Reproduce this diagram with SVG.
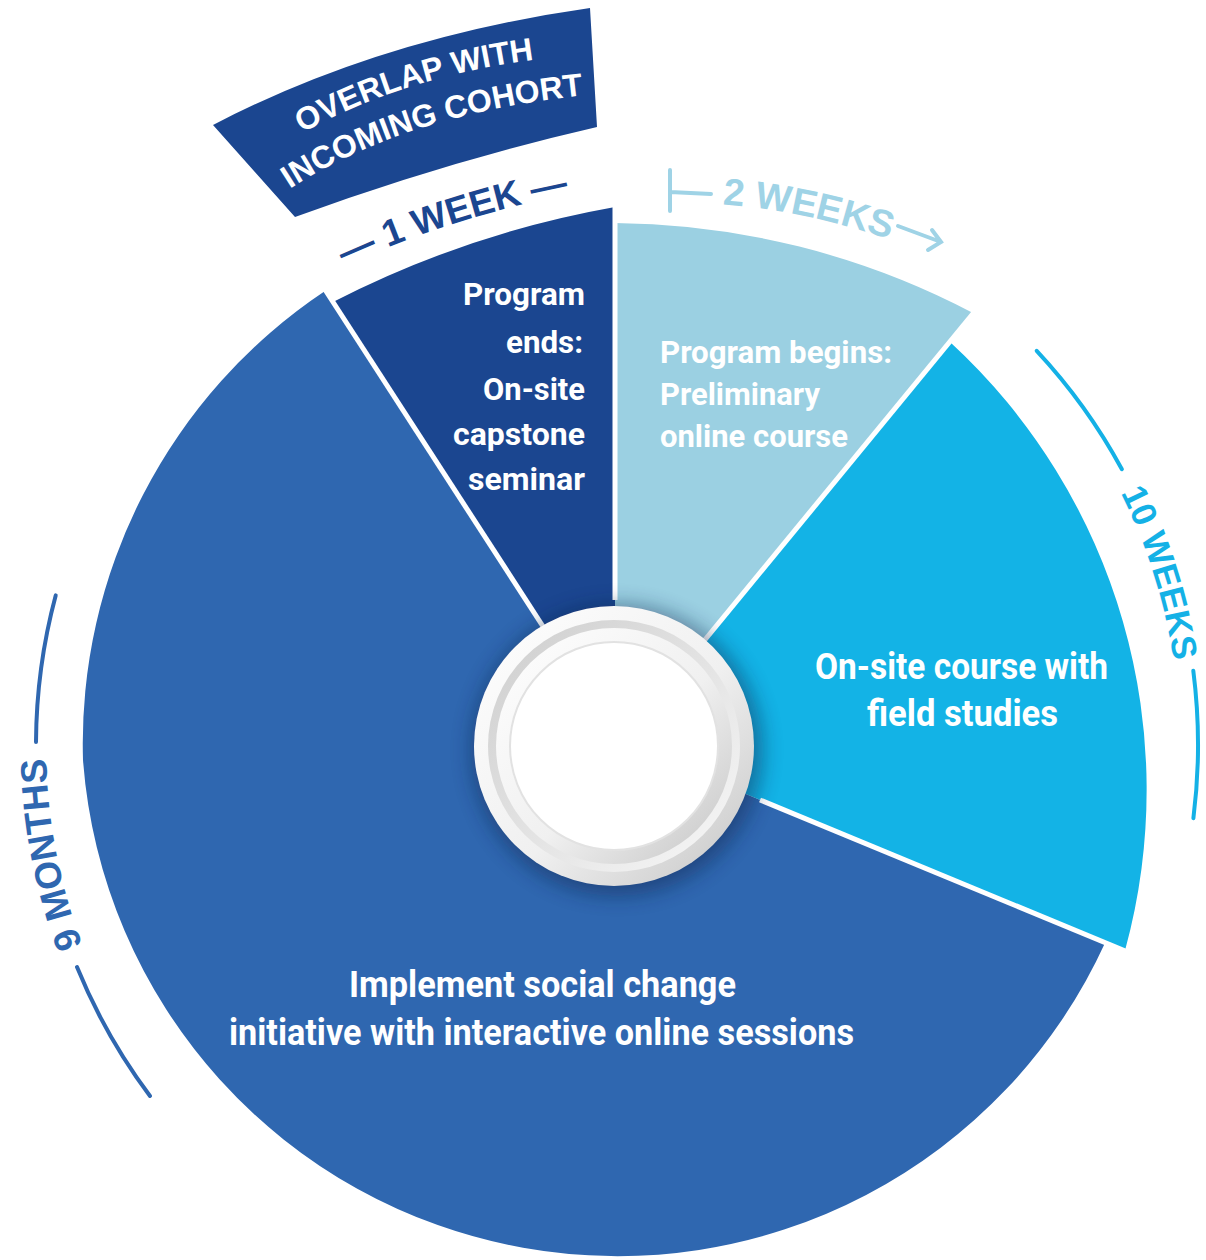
<svg xmlns="http://www.w3.org/2000/svg" width="1206" height="1260" viewBox="0 0 1206 1260">
<defs>
<style>
.seg-text{font-family:Roboto,"Liberation Sans",Arial,sans-serif;font-weight:700;fill:#ffffff}
.lbl{font-family:"Liberation Sans",Arial,sans-serif;font-weight:700}
.sep{stroke:#ffffff;stroke-width:5;fill:none;stroke-linecap:butt}
.rule{fill:none;stroke-width:4;stroke-linecap:round}
</style>
<filter id="hubShadow" x="-50%" y="-50%" width="200%" height="200%"><feGaussianBlur stdDeviation="10"/></filter>
<linearGradient id="ringA" x1="0" y1="0" x2="1" y2="1"><stop offset="0" stop-color="#ffffff"/><stop offset="0.55" stop-color="#f0f0f0"/><stop offset="1" stop-color="#c4c4c4"/></linearGradient>
<linearGradient id="ringB" x1="0" y1="0" x2="1" y2="1"><stop offset="0" stop-color="#cdcdcd"/><stop offset="1" stop-color="#f8f8f8"/></linearGradient>
<path id="pOverlap" d="M 290,140 Q 400,75 548,58"/>
<path id="pIncoming" d="M 278,197 Q 400,112 598,94"/>
<path id="p1week" d="M 325,275 Q 450,215 590,190"/>
<path id="p2weeks" d="M 712,204 Q 800,208 900,243"/>
<path id="p10weeks" d="M 1083.2,428.5 A 566 566 0 0 1 1179.9,735.1"/>
<path id="p9months" d="M 143.1,1062.6 A 568 568 0 0 1 58.4,626.9"/>
</defs>
<rect width="1206" height="1260" fill="#ffffff"/>

<g id="seg-implement">
<path d="M 614,745 L 721.6,784 L 1105,943 A 536 536 0 0 1 83,760 A 544 544 0 0 1 325,291 L 561.7,656.6 Z" fill="#2f67b0"/>
<text class="seg-text" font-size="36" text-anchor="middle" x="542.5" y="997" textLength="387" lengthAdjust="spacingAndGlyphs">Implement social change</text>
<text class="seg-text" font-size="36" text-anchor="middle" x="541.5" y="1045" textLength="625" lengthAdjust="spacingAndGlyphs">initiative with interactive online sessions</text>
</g>

<g id="seg-capstone">
<path d="M 614,745 L 561.7,656.6 L 333,302 A 1000 1000 0 0 1 615,207 L 615,640 Z" fill="#1b4690"/>
<text class="seg-text" font-size="32" text-anchor="end" x="585" y="305" textLength="122" lengthAdjust="spacingAndGlyphs">Program</text>
<text class="seg-text" font-size="32" text-anchor="end" x="583" y="353" textLength="77" lengthAdjust="spacingAndGlyphs">ends:</text>
<text class="seg-text" font-size="32" text-anchor="end" x="585" y="400" textLength="102" lengthAdjust="spacingAndGlyphs">On-site</text>
<text class="seg-text" font-size="32" text-anchor="end" x="585" y="445" textLength="132" lengthAdjust="spacingAndGlyphs">capstone</text>
<text class="seg-text" font-size="32" text-anchor="end" x="585" y="490" textLength="117" lengthAdjust="spacingAndGlyphs">seminar</text>
</g>

<g id="seg-preliminary">
<path d="M 614,745 L 615,640 L 615,223 A 783 783 0 0 1 973,313 L 681.6,667.9 Z" fill="#9bd0e2"/>
<text class="seg-text" font-size="32" x="660" y="363" textLength="232" lengthAdjust="spacingAndGlyphs">Program begins:</text>
<text class="seg-text" font-size="32" x="660" y="405" textLength="160" lengthAdjust="spacingAndGlyphs">Preliminary</text>
<text class="seg-text" font-size="32" x="660" y="447" textLength="188" lengthAdjust="spacingAndGlyphs">online course</text>
</g>

<g id="seg-onsite">
<path d="M 614,745 L 681.6,667.9 L 950,342 A 608 608 0 0 1 1125,950.5 L 721.6,784 Z" fill="#13b3e6"/>
<text class="seg-text" font-size="36" text-anchor="middle" x="961.5" y="679" textLength="293" lengthAdjust="spacingAndGlyphs">On-site course with</text>
<text class="seg-text" font-size="36" text-anchor="middle" x="962.5" y="726" textLength="191" lengthAdjust="spacingAndGlyphs">field studies</text>
</g>

<g id="separators">
<line class="sep" x1="615" y1="600" x2="615" y2="200"/>
<line class="sep" x1="555" y1="645" x2="322" y2="285"/>
<line class="sep" x1="690" y1="658" x2="980" y2="305"/>
<line class="sep" x1="760" y1="800" x2="1135" y2="955"/>
</g>

<g id="hub">
<circle cx="617" cy="750" r="146" fill="#0d2448" opacity="0.45" filter="url(#hubShadow)"/>
<circle cx="614" cy="746" r="140" fill="url(#ringA)"/>
<circle cx="614" cy="746" r="126" fill="url(#ringB)"/>
<circle cx="614" cy="746" r="118" fill="url(#ringA)"/>
<circle cx="614" cy="746" r="104" fill="#ffffff" stroke="#e2e2e2" stroke-width="2"/>
</g>

<g id="banner">
<path d="M 213,125 Q 380,38 590,8 L 597,127 Q 445,162 295,217 Z" fill="#1b4690"/>
<text class="lbl" font-size="32" fill="#ffffff"><textPath href="#pOverlap" startOffset="50%" text-anchor="middle">OVERLAP WITH</textPath></text>
<text class="lbl" font-size="32" fill="#ffffff"><textPath href="#pIncoming" startOffset="50%" text-anchor="middle">INCOMING COHORT</textPath></text>
</g>

<g id="label-1week">
<text class="lbl" font-size="37" fill="#1b4690"><textPath href="#p1week" startOffset="50%" text-anchor="middle">— 1 WEEK —</textPath></text>
</g>

<g id="label-2weeks">
<path class="rule" stroke="#9fd3e6" d="M 670,170 L 670,211 M 670,192 L 711,194"/>
<text class="lbl" font-size="38" fill="#9fd3e6"><textPath href="#p2weeks" startOffset="50%" text-anchor="middle">2 WEEKS</textPath></text>
<path class="rule" stroke="#9fd3e6" d="M 898,226 L 941,242 M 932,230 L 941,242 L 928,250"/>
</g>

<g id="label-10weeks">
<path class="rule" stroke="#14b1e6" d="M 1036.7,350.8 A 578 578 0 0 1 1121.9,469.2"/>
<text class="lbl" font-size="35" fill="#14b1e6"><textPath href="#p10weeks" startOffset="50%" text-anchor="middle">10 WEEKS</textPath></text>
<path class="rule" stroke="#14b1e6" d="M 1193.3,670.8 A 584 584 0 0 1 1193.4,818.2"/>
</g>

<g id="label-9months">
<path class="rule" stroke="#2f67b0" d="M 36,742 A 578 578 0 0 1 55.7,595.4"/>
<text class="lbl" font-size="37" fill="#2f67b0"><textPath href="#p9months" startOffset="50%" text-anchor="middle">9 MONTHS</textPath></text>
<path class="rule" stroke="#2f67b0" d="M 150,1096 A 581 581 0 0 1 77,967"/>
</g>
</svg>
